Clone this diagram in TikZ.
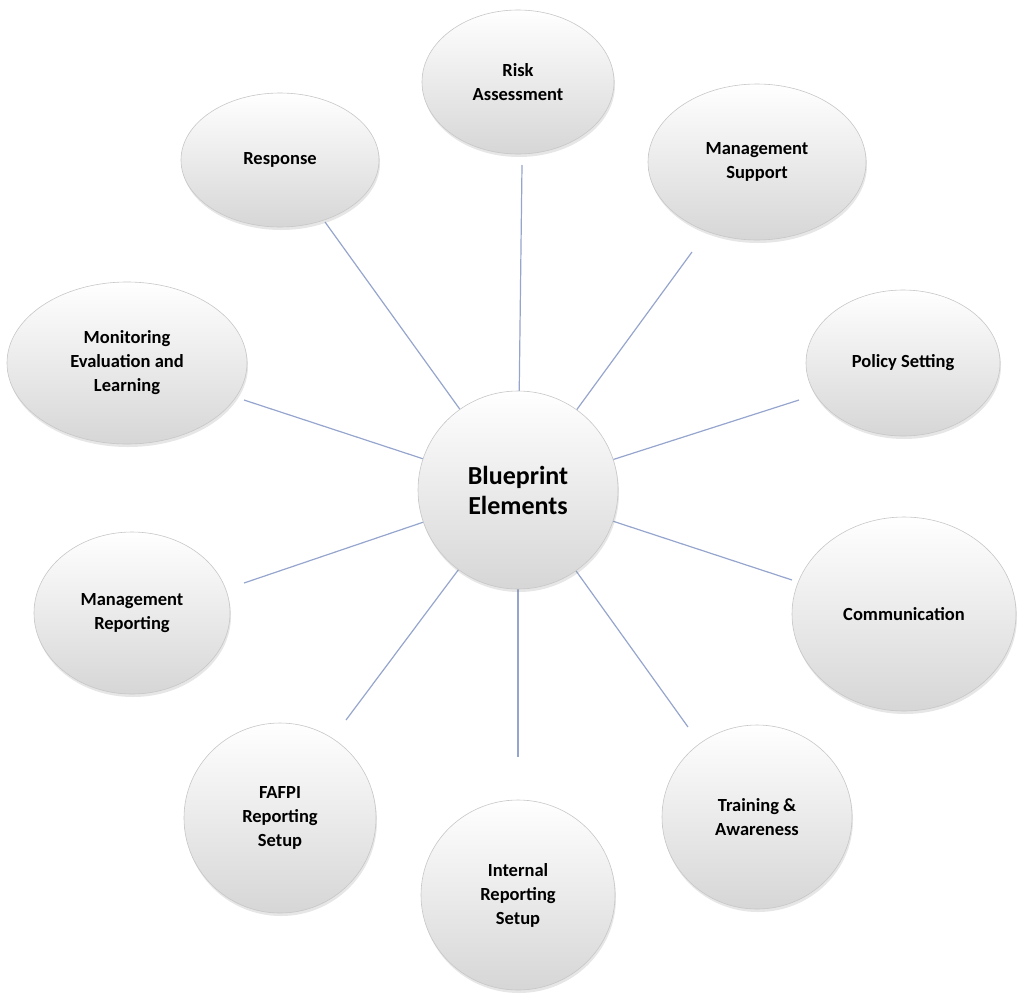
\documentclass[tikz,border=0pt]{standalone}
\usepackage{fontspec}
\setmainfont{Carlito}
\usetikzlibrary{shapes.geometric,shadows}
\pgfdeclarelayer{bg}
\pgfsetlayers{bg,main}
\begin{document}
\begin{tikzpicture}[x=1pt,y=-1pt,
  bub/.style={ellipse,draw=black!22,line width=0.6pt,top color=white,middle color=white,bottom color=black!16,
    drop shadow={shadow xshift=1pt,shadow yshift=-3pt,opacity=0.2},
    font=\bfseries\fontsize{18.5}{24}\selectfont,align=center,inner sep=0pt},
  link/.style={draw={rgb,255:red,150;green,165;blue,205},line width=1.2pt}]
\useasboundingbox (0,0) rectangle (1024,1004);
\node[bub,minimum width=200,minimum height=198,font=\bfseries\fontsize{26}{30}\selectfont] (c) at (518,490) {Blueprint\\Elements};
\node[bub,minimum width=192,minimum height=144] (ra) at (518,82) {Risk\\Assessment};
\node[bub,minimum width=218,minimum height=156] (ms) at (757,162) {Management\\Support};
\node[bub,minimum width=194,minimum height=146] (ps) at (903,363) {Policy Setting};
\node[bub,minimum width=224,minimum height=194] (co) at (904,614) {Communication};
\node[bub,minimum width=190,minimum height=184] (ta) at (757,817) {Training \&\\Awareness};
\node[bub,minimum width=194,minimum height=190] (ir) at (518,895) {Internal\\Reporting\\Setup};
\node[bub,minimum width=192,minimum height=190] (ff) at (280,818) {FAFPI\\Reporting\\Setup};
\node[bub,minimum width=196,minimum height=162] (mr) at (132,613) {Management\\Reporting};
\node[bub,minimum width=240,minimum height=162] (me) at (127,363) {Monitoring\\Evaluation and\\Learning};
\node[bub,minimum width=198,minimum height=134] (re) at (280,160) {Response};
\coordinate (e1) at (522,165);
\coordinate (e2) at (692,252);
\coordinate (e3) at (799,400);
\coordinate (e4) at (792,580);
\coordinate (e5) at (688,727);
\coordinate (e6) at (518,757);
\coordinate (e7) at (346,720);
\coordinate (e8) at (244,583);
\coordinate (e9) at (244,400);
\coordinate (e10) at (325,222);
\begin{pgfonlayer}{bg}
\foreach \i in {1,...,10} {\path[link] (c.center) -- (e\i);}
\end{pgfonlayer}
\end{tikzpicture}
\end{document}
